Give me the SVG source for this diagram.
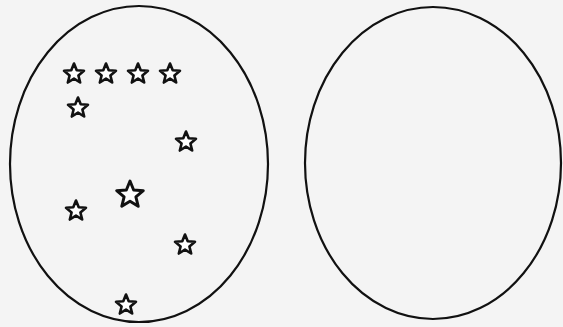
<svg xmlns="http://www.w3.org/2000/svg" xmlns:xlink="http://www.w3.org/1999/xlink" width="563" height="327" viewBox="0 0 563 327">
  <style>
    .oval { fill: none; stroke: #111; stroke-width: 2.2; }
    .star { fill: #fff; stroke: #111; stroke-width: 2.5; stroke-linejoin: round; }
    .big { stroke-width: 2.1; }
  </style>
  <defs>
    <path id="star" d="M0,-10 L2.6,-3.6 L9.51,-3.09 L4.2,1.4 L5.88,8.09 L0,4.4 L-5.88,8.09 L-4.2,1.4 L-9.51,-3.09 L-2.6,-3.6 Z"/>
  </defs>
  <rect width="563" height="327" fill="#f4f4f4"/>
  <g id="left-oval">
    <ellipse class="oval" cx="139" cy="164" rx="129" ry="158"/>
  </g>
  <g id="right-oval">
    <ellipse class="oval" cx="433" cy="163" rx="128" ry="156"/>
  </g>
  <g id="stars">
    <use href="#star" class="star" transform="translate(74,74) scale(1.05)"/>
    <use href="#star" class="star" transform="translate(106,74) scale(1.05)"/>
    <use href="#star" class="star" transform="translate(138,74) scale(1.05)"/>
    <use href="#star" class="star" transform="translate(170,74) scale(1.05)"/>
    <use href="#star" class="star" transform="translate(78,108) scale(1.05)"/>
    <use href="#star" class="star" transform="translate(186,142) scale(1.05)"/>
    <use href="#star" class="star big" transform="translate(130,195) scale(1.4)"/>
    <use href="#star" class="star" transform="translate(76,211) scale(1.05)"/>
    <use href="#star" class="star" transform="translate(185,245) scale(1.05)"/>
    <use href="#star" class="star" transform="translate(126,305) scale(1.05)"/>
  </g>
</svg>
